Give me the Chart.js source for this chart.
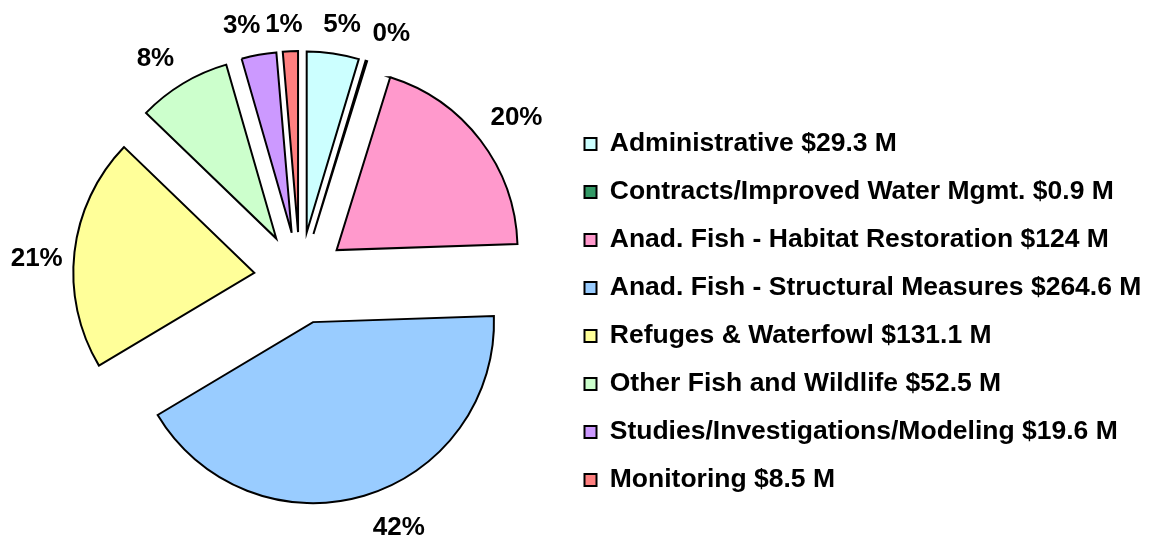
<!DOCTYPE html>
<html>
<head>
<meta charset="utf-8">
<script src="https://cdn.jsdelivr.net/npm/chart.js@4.4.1/dist/chart.umd.min.js"></script>
<style>
  html, body { margin: 0; padding: 0; background: #ffffff; }
  #wrap { width: 1153px; height: 542px; }
</style>
</head>
<body>
<div id="wrap"><canvas id="c" width="1153" height="542"></canvas></div>
<script>
const categories = ['Administrative', 'Contracts/Improved Water Mgmt.', 'Anad. Fish - Habitat Restoration', 'Anad. Fish - Structural Measures', 'Refuges & Waterfowl', 'Other Fish and Wildlife', 'Studies/Investigations/Modeling', 'Monitoring'];
const amounts = [29.3, 0.9, 124, 264.6, 131.1, 52.5, 19.6, 8.5];
const colors = ['#CCFFFF', '#339966', '#FF99CC', '#99CCFF', '#FFFF99', '#CCFFCC', '#CC99FF', '#FF8080'];

const legendLabels = categories.map((c, i) => c + ' $' + amounts[i] + ' M');
const FONT = '"Liberation Sans", Arial, sans-serif';

const explodePlugin = {
  id: 'explode',
  afterLayout(chart) {
    // let the legend use the full width up to the canvas edge (no clipping of long labels)
    if (chart.legend) {
      chart.legend.right = chart.width;
      chart.legend.width = chart.width - chart.legend.left;
    }
  },
  afterDatasetsUpdate(chart, args, opts) {
    const meta = chart.getDatasetMeta(0);
    meta.data.forEach(arc => {
      const mid = (arc.startAngle + arc.endAngle) / 2;
      arc.x += Math.cos(mid) * opts.distance;
      arc.y += Math.sin(mid) * opts.distance;
    });
  }
};

const pctLabelPlugin = {
  id: 'pctLabels',
  afterDatasetsDraw(chart, args, opts) {
    const ctx = chart.ctx;
    const meta = chart.getDatasetMeta(0);
    const data = chart.data.datasets[0].data;
    const total = data.reduce((a, b) => a + b, 0);
    ctx.save();
    ctx.font = 'bold ' + opts.size + 'px ' + FONT;
    ctx.fillStyle = '#000';
    ctx.textAlign = 'center';
    ctx.textBaseline = 'alphabetic';
    meta.data.forEach((arc, i) => {
      const mid = (arc.startAngle + arc.endAngle) / 2;
      const n = opts.nudge[i] || [0, 0];
      const cx = arc.x + Math.cos(mid) * opts.dist + n[0];
      const cy = arc.y + Math.sin(mid) * opts.dist + n[1];
      const txt = Math.round(data[i] / total * 100) + '%';
      ctx.fillText(txt, cx, cy + opts.size * 0.358);
    });
    ctx.restore();
  }
};

new Chart(document.getElementById('c'), {
  type: 'pie',
  data: {
    labels: legendLabels,
    datasets: [{
      data: amounts,
      backgroundColor: colors,
      borderColor: '#000000',
      borderWidth: 2,
      borderJoinStyle: 'miter',
      radius: 181
    }]
  },
  options: {
    responsive: false,
    animation: false,
    events: [],
    layout: { padding: { left: 37, right: 64, top: 14, bottom: 0 } },
    plugins: {
      tooltip: { enabled: false },
      legend: {
        position: 'right',
        align: 'center',
        maxWidth: 526,
        title: { display: true, text: ' ', padding: { top: 28, bottom: 28 }, font: { size: 10 } },
        labels: {
          boxWidth: 12,
          boxHeight: 12,
          padding: 21.5,
          color: '#000000',
          font: { family: FONT, size: 26.5, weight: 'bold' }
        }
      },
      explode: { distance: 46 },
      pctLabels: {
        size: 26,
        dist: 215,
        nudge: [[4, 3], [15, 3], [9, -4], [25, -3], [-4, 8], [-10, 2], [-11, 2], [-5, 5]]
      }
    }
  },
  plugins: [explodePlugin, pctLabelPlugin]
});
</script>
</body>
</html>
